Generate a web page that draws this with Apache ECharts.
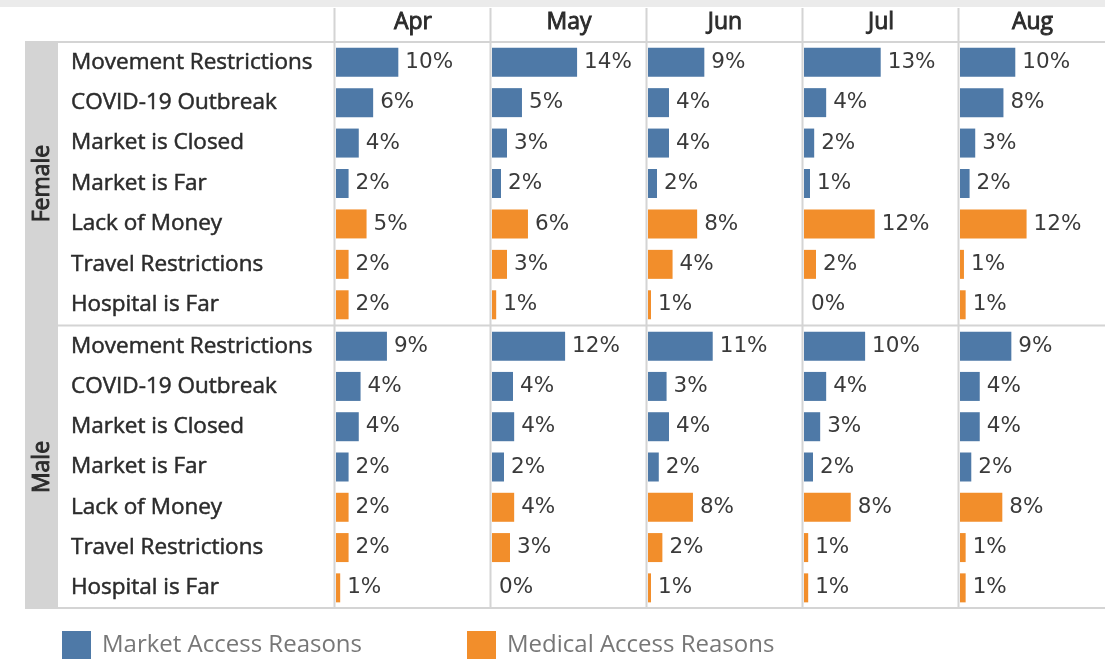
<!DOCTYPE html>
<html>
<head>
<meta charset="utf-8">
<script src="https://cdn.jsdelivr.net/npm/echarts@6/dist/echarts.min.js"></script>
<style>
  html, body { margin: 0; padding: 0; background: #fff; }
  #chart { width: 1105px; height: 659px; }
</style>
</head>
<body>
<div id="chart"></div>
<script>
// categories
var months = ['Apr', 'May', 'Jun', 'Jul', 'Aug'];
var genders = ['Female', 'Male'];
var reasons = ['Movement Restrictions', 'COVID-19 Outbreak', 'Market is Closed', 'Market is Far',
               'Lack of Money', 'Travel Restrictions', 'Hospital is Far'];
var marketRows = 4; // first 4 reasons = market access, rest = medical access

// share of respondents (%)
var femaleApr = [10.4, 6.2, 3.8, 2.1, 5.1, 2.1, 2.1];
var femaleMay = [14.2, 5.0, 2.5, 1.5, 6.0, 2.5, 0.7];
var femaleJun = [9.4, 3.5, 3.5, 1.5, 8.2, 4.1, 0.5];
var femaleJul = [12.8, 3.7, 1.7, 1.0, 11.8, 2.0, 0.0];
var femaleAug = [9.8, 7.7, 2.7, 1.7, 11.8, 0.7, 1.0];

var maleApr = [8.5, 4.1, 3.8, 2.1, 2.1, 2.1, 0.7];
var maleMay = [12.2, 3.5, 3.7, 2.0, 3.7, 3.0, 0.0];
var maleJun = [10.8, 3.1, 3.5, 1.8, 7.5, 2.4, 0.5];
var maleJul = [10.2, 3.7, 2.7, 1.5, 7.8, 0.7, 0.7];
var maleAug = [9.1, 3.5, 3.5, 2.0, 7.5, 1.0, 1.0];

var femaleData = [femaleApr, femaleMay, femaleJun, femaleJul, femaleAug];
var maleData = [maleApr, maleMay, maleJun, maleJul, maleAug];

var blue = '#4e79a7', orange = '#f28e2b', lineCol = '#d4d4d4';
var font = 'Open Sans';
// slightly heavier than regular, like the Tableau "medium" headers
var medium = { fontFamily: font, fontSize: 23, color: '#2b2b2b', textBorderColor: '#2b2b2b', textBorderWidth: 0.5 };
var header = Object.assign({}, medium, { textBorderWidth: 0.9 });

var chart = echarts.init(document.getElementById('chart'));

var grids = [], xAxes = [], yAxes = [], series = [];
var colLeft = [336, 492, 648, 804, 960];
var rowTop = [42, 326], rowH = [283, 282];

genders.forEach(function (g, gi) {
    var set = gi === 0 ? femaleData : maleData;
    months.forEach(function (m, mi) {
        var idx = grids.length;
        grids.push({ left: colLeft[mi], top: rowTop[gi], width: 154, height: rowH[gi] });
        xAxes.push({
            gridIndex: idx, type: 'value', min: 0, max: 25.7, position: 'top',
            axisLine: { show: false }, axisTick: { show: false }, axisLabel: { show: false },
            splitLine: { show: false },
            name: gi === 0 ? m : '', nameLocation: 'middle', nameGap: 8,
            nameTextStyle: header
        });
        yAxes.push({
            gridIndex: idx, type: 'category', data: reasons, inverse: true,
            axisLine: { show: false }, axisTick: { show: false },
            axisLabel: Object.assign({ show: mi === 0, align: 'left', margin: 265 }, medium, { fontSize: 22.5 }),
            name: mi === 0 ? g : '', nameLocation: 'middle', nameRotate: 90, nameGap: 282,
            nameTextStyle: header
        });
        var vals = set[mi];
        var lab = {
            show: true, position: 'right', distance: 7,
            fontFamily: 'DejaVu Sans', fontSize: 21.5, color: '#3a3a3a',
            formatter: function (p) { return Math.round(p.value) + '%'; }
        };
        series.push({
            name: 'Market Access Reasons', type: 'bar', xAxisIndex: idx, yAxisIndex: idx,
            stack: 's' + idx, barWidth: 29, itemStyle: { color: blue }, label: lab,
            data: vals.map(function (v, i) { return i < marketRows ? v : '-'; })
        });
        series.push({
            name: 'Medical Access Reasons', type: 'bar', xAxisIndex: idx, yAxisIndex: idx,
            stack: 's' + idx, barWidth: 29, itemStyle: { color: orange }, label: lab,
            data: vals.map(function (v, i) { return i >= marketRows ? v : '-'; })
        });
    });
});

// table frame: header strip, gender band, row and column rules
var graphics = [
    { type: 'rect', shape: { x: 0, y: 0, width: 1105, height: 7 }, style: { fill: '#ebebeb' }, silent: true },
    { type: 'rect', shape: { x: 25, y: 42, width: 33, height: 566 }, style: { fill: '#d4d4d4' }, silent: true }
];
[42, 325.5, 608].forEach(function (y) {
    graphics.push({ type: 'line', shape: { x1: 25, y1: y, x2: 1105, y2: y },
        style: { stroke: lineCol, lineWidth: 2 }, silent: true });
});
colLeft.forEach(function (x) {
    graphics.push({ type: 'line', shape: { x1: x - 1.5, y1: 8, x2: x - 1.5, y2: 608 },
        style: { stroke: lineCol, lineWidth: 2 }, silent: true });
});

chart.setOption({
    animation: false,
    backgroundColor: '#fff',
    graphic: { elements: graphics },
    legend: {
        data: ['Market Access Reasons', 'Medical Access Reasons'],
        left: 62, top: 631, padding: 0, icon: 'rect', itemWidth: 29, itemHeight: 28, itemGap: 105,
        textStyle: { fontFamily: font, fontSize: 24, color: '#777', padding: [0, 0, 0, 6] }
    },
    grid: grids,
    xAxis: xAxes,
    yAxis: yAxes,
    series: series
});
</script>
</body>
</html>
